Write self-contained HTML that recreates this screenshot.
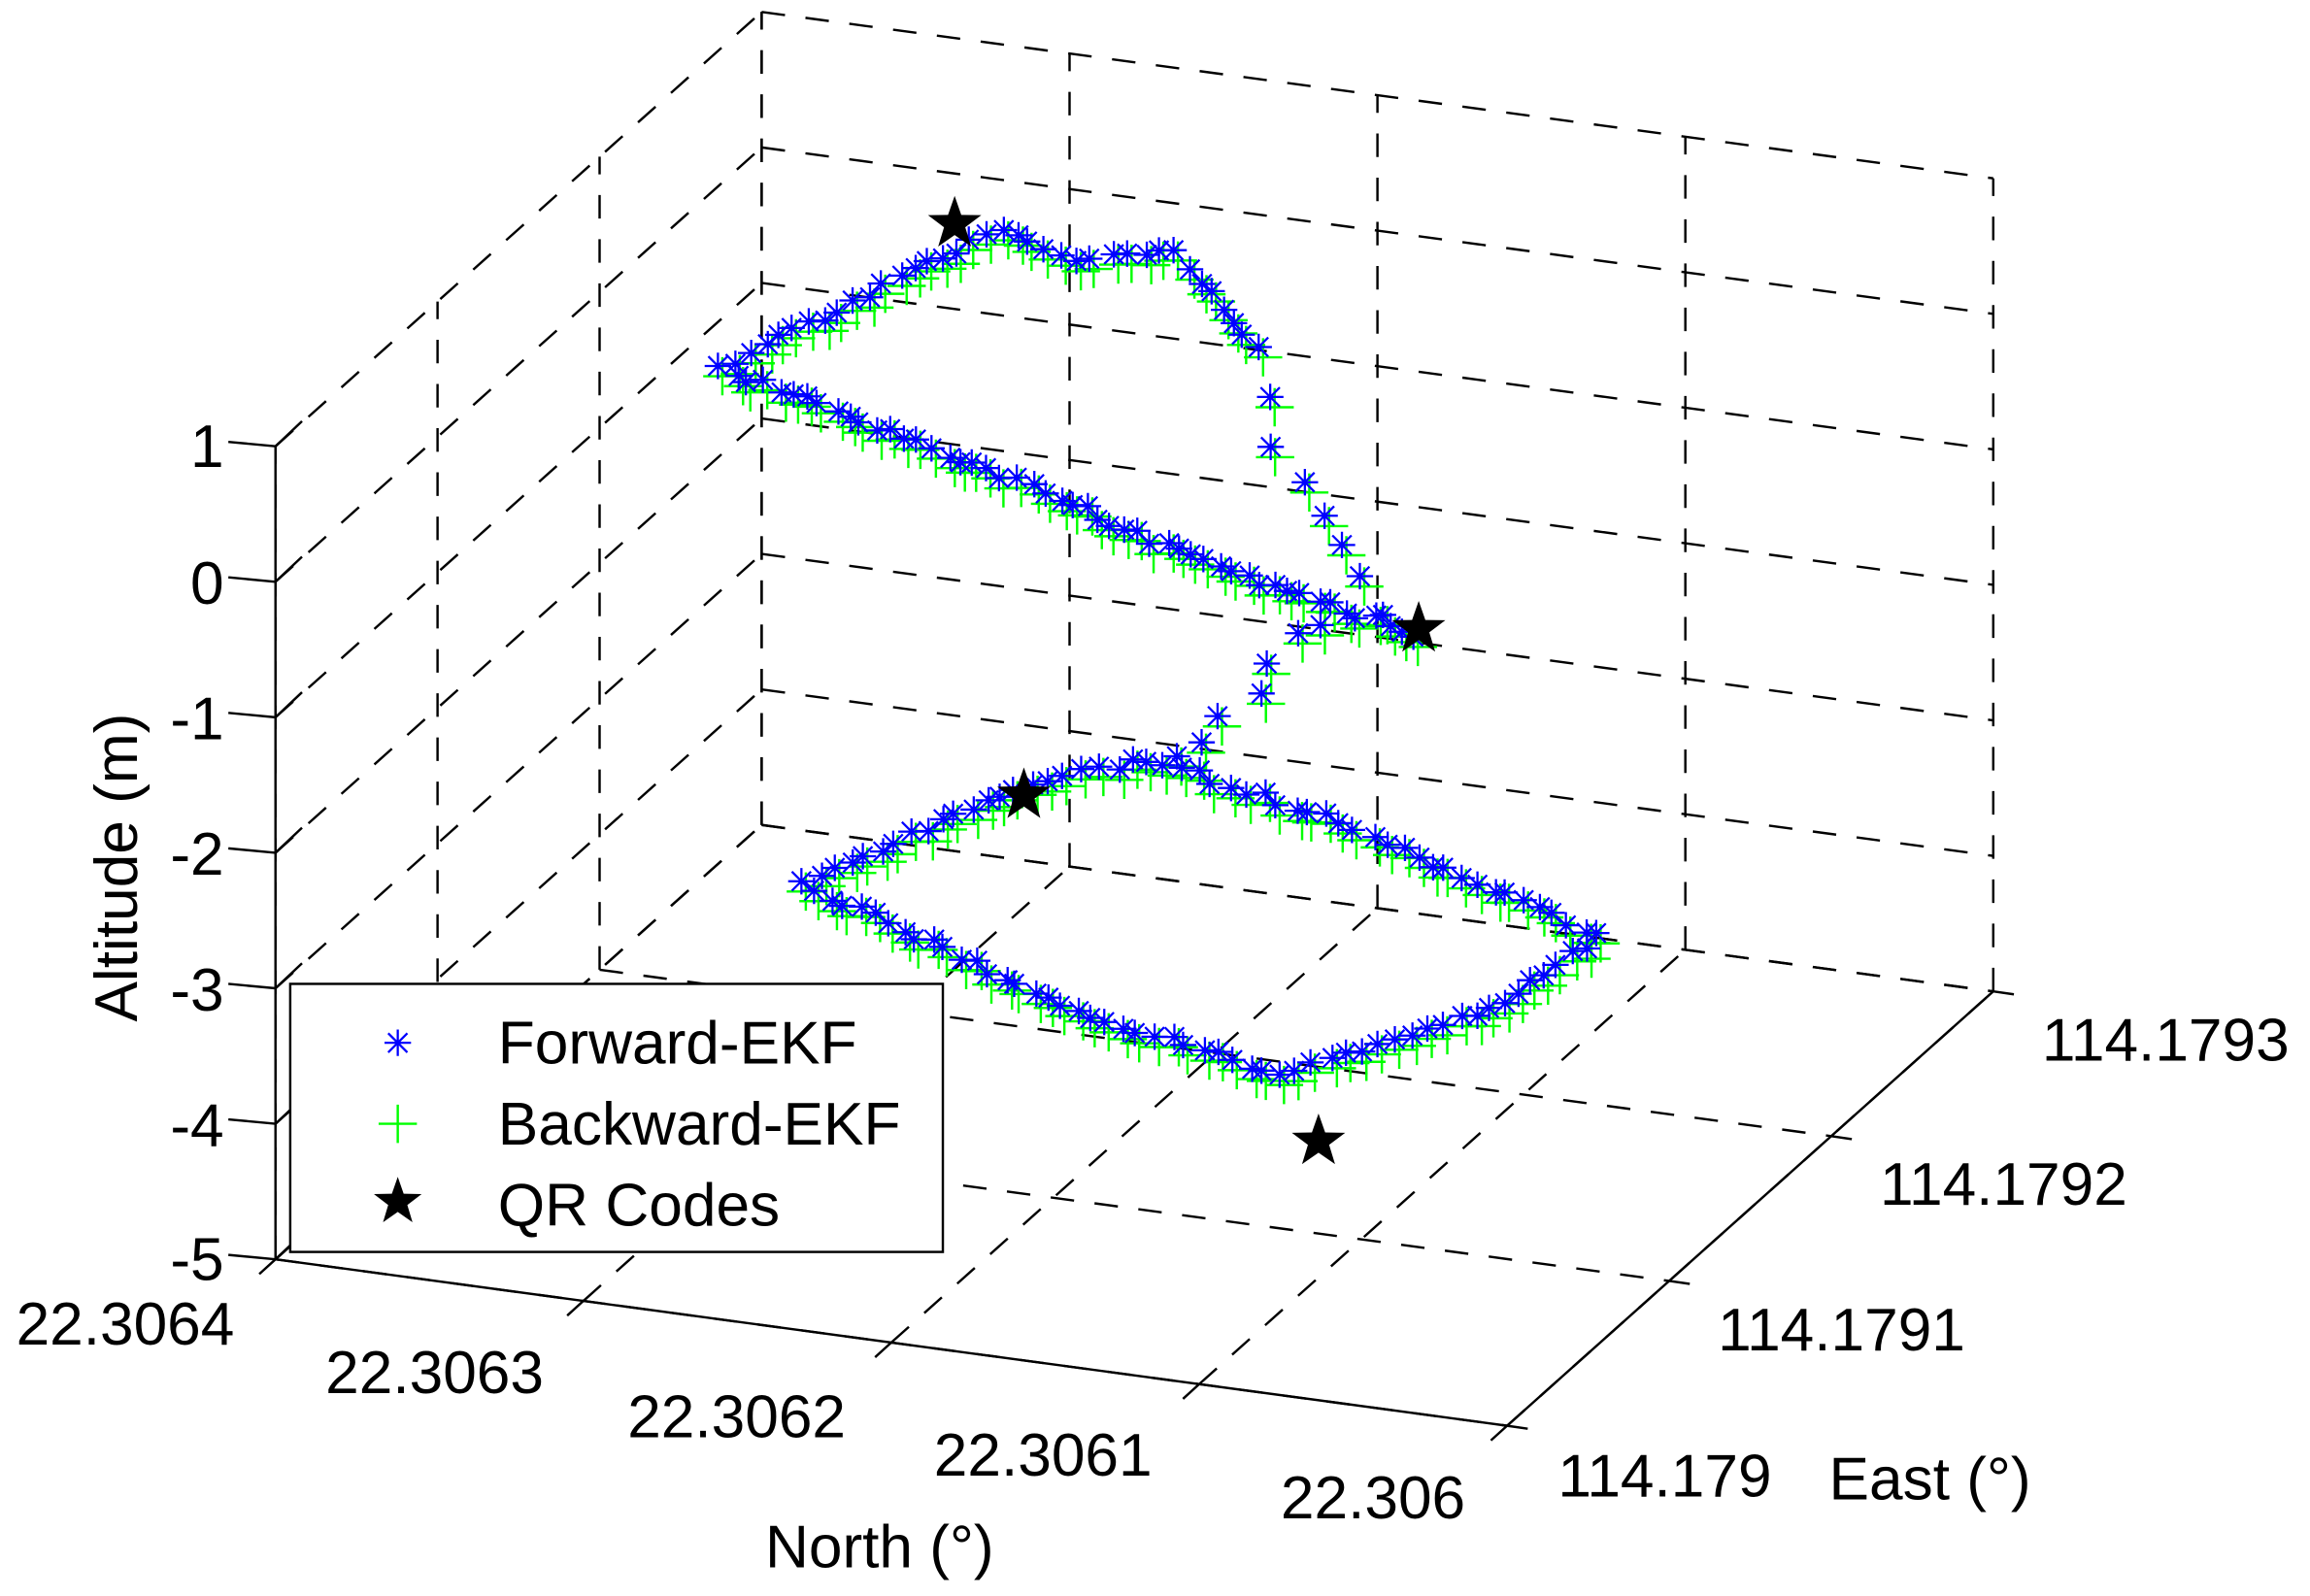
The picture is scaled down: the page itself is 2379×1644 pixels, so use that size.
<!DOCTYPE html>
<html><head><meta charset="utf-8"><style>html,body{margin:0;padding:0;background:#fff}svg{display:block}</style></head>
<body>
<svg id="s" width="2379" height="1644" viewBox="0 0 1568 1083.6" preserveAspectRatio="none" xmlns="http://www.w3.org/2000/svg" font-family="Liberation Sans, Arial, sans-serif">
<rect width="1568" height="1084" fill="#fff"/>
<g id="grid" stroke="#000" stroke-width="1.6" stroke-dasharray="16,14" fill="none"></g>
<g id="axes" stroke="#000" stroke-width="1.6" fill="none"></g>
<g id="data"></g>
<g font-size="41" fill="#000">
<text x="152" y="317" text-anchor="end">1</text>
<text x="152" y="410" text-anchor="end">0</text>
<text x="152" y="502" text-anchor="end">-1</text>
<text x="152" y="594" text-anchor="end">-2</text>
<text x="152" y="686" text-anchor="end">-3</text>
<text x="152" y="778" text-anchor="end">-4</text>
<text x="152" y="869" text-anchor="end">-5</text>
<text transform="translate(79,589) rotate(-90)" text-anchor="middle" dy="14">Altitude (m)</text>
<text x="85" y="913" text-anchor="middle">22.3064</text>
<text x="295" y="946" text-anchor="middle">22.3063</text>
<text x="500" y="976" text-anchor="middle">22.3062</text>
<text x="708" y="1002" text-anchor="middle">22.3061</text>
<text x="932" y="1031" text-anchor="middle">22.306</text>
<text x="597" y="1064" text-anchor="middle">North (°)</text>
<text x="1130" y="1016" text-anchor="middle">114.179</text>
<text x="1250" y="917" text-anchor="middle">114.1791</text>
<text x="1360" y="818" text-anchor="middle">114.1792</text>
<text x="1470" y="720" text-anchor="middle">114.1793</text>
<text x="1310" y="1018" text-anchor="middle">East (°)</text>
</g>
<g id="legend">
<rect x="197" y="668" width="443" height="182" fill="#fff" stroke="#000" stroke-width="1.6"/>
<g font-size="41"><text x="338" y="722">Forward-EKF</text><text x="338" y="777">Backward-EKF</text><text x="338" y="832">QR Codes</text></g>
</g>
</svg>
<script>
var NS="http://www.w3.org/2000/svg";
function P(i,j,z){return [187+209*i+110*j, 855+28.25*i-98.3*j-(z+5)*92];}
function line(g,a,b){var l=document.createElementNS(NS,"line");l.setAttribute("x1",a[0]);l.setAttribute("y1",a[1]);l.setAttribute("x2",b[0]);l.setAttribute("y2",b[1]);document.getElementById(g).appendChild(l);}
for(var i=0;i<=4;i++)line("grid",P(i,3,-5),P(i,3,1));
for(var z=-5;z<=1;z++)line("grid",P(0,3,z),P(4,3,z));
for(var j=0;j<=3;j++)line("grid",P(0,j,-5),P(0,j,1));
for(var z=-5;z<=1;z++)line("grid",P(0,0,z),P(0,3,z));
for(var j=0;j<=3;j++)line("grid",P(0,j,-5),P(4,j,-5));
for(var i=0;i<=4;i++)line("grid",P(i,0,-5),P(i,3,-5));
line("axes",P(0,0,-5),P(0,0,1));
line("axes",P(0,0,-5),P(4,0,-5));
line("axes",P(4,0,-5),P(4,3,-5));
for(var z=-5;z<=1;z++){var p=P(0,0,z);line("axes",p,[p[0]+18,p[1]-17]);line("axes",p,[p[0]-32,p[1]-3]);}
for(var i=0;i<=4;i++){var p=P(i,0,-5);line("axes",p,[p[0]-11,p[1]+10]);}
for(var j=0;j<=3;j++){var p=P(4,j,-5);line("axes",p,[p[0]+14,p[1]+2]);}
var d=document.getElementById("data");
function star(x,y,r,fill){var s="";for(var k=0;k<10;k++){var a=-Math.PI/2+k*Math.PI/5,rr=k%2?r*0.4:r;s+=(x+rr*Math.cos(a)).toFixed(1)+","+(y+rr*Math.sin(a)).toFixed(1)+" ";}var p=document.createElementNS(NS,"polygon");p.setAttribute("points",s);p.setAttribute("fill",fill);d.appendChild(p);}
function ast(x,y){var r=9,s;var g=document.createElementNS(NS,"path");s="M"+(x-r)+","+y+"h"+2*r+"M"+x+","+(y-r)+"v"+2*r+"M"+(x-6.5)+","+(y-6.5)+"l13,13M"+(x-6.5)+","+(y+6.5)+"l13,-13";g.setAttribute("d",s);g.setAttribute("stroke","#0000ff");g.setAttribute("stroke-width","1.5");d.appendChild(g);}
function plus(x,y){var r=13;var g=document.createElementNS(NS,"path");g.setAttribute("d","M"+(x-r)+","+y+"h"+2*r+"M"+x+","+(y-r)+"v"+2*r);g.setAttribute("stroke","#00ff00");g.setAttribute("stroke-width","1.6");d.appendChild(g);}
var seed=3;function rnd(){seed=(seed*9301+49297)%233280;return seed/233280-0.5;}
function path(pts,step,jit){var out=[];for(var k=0;k<pts.length-1;k++){var a=pts[k],b=pts[k+1];var L=Math.hypot(b[0]-a[0],b[1]-a[1]);var n=Math.max(1,Math.round(L/step));for(var t=0;t<n;t++){out.push([a[0]+(b[0]-a[0])*t/n+rnd()*jit,a[1]+(b[1]-a[1])*t/n+rnd()*jit]);}}return out;}
var lower=path([[545,600],[690,535],[780,515],[900,555],[1085,635],[1020,680],[960,705],[870,730],[740,690],[545,600]],11,6);
var upper=path([[490,250],[580,205],[680,155],[730,175],[800,172]],11,6).concat(path([[800,172],[850,240]],12,8)).concat(path([[850,240],[880,330],[940,420],[960,430]],28,16)).concat(path([[960,430],[800,375],[700,330],[490,250]],10,6));
var conn=path([[900,420],[850,470],[790,520]],22,20);
var all=lower.concat(upper).concat(conn);
all.forEach(function(p){plus(p[0]+3,p[1]+7);});
all.forEach(function(p){ast(p[0],p[1]);});
star(648,152,19,"#000");star(963,427,19,"#000");star(695,540,19,"#000");star(895,775,19,"#000");
d.parentNode.appendChild(document.getElementById("legend"));
d=document.getElementById("legend");
ast(270,708);plus(270,763);star(270,816,17,"#000");
</script>
</body></html>
